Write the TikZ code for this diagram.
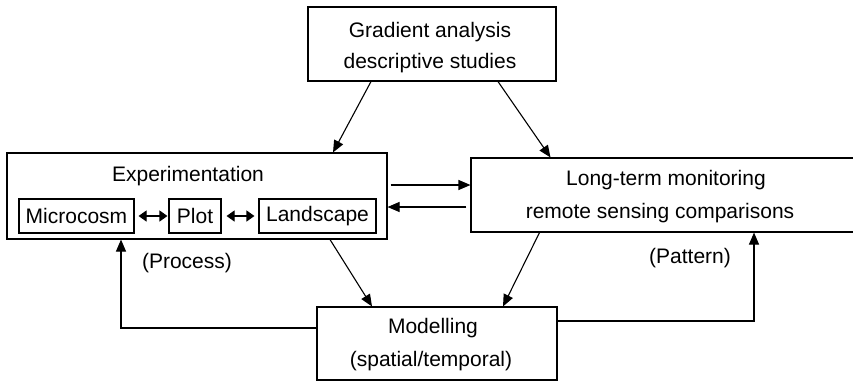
\documentclass[tikz,border=0pt]{standalone}
\usepackage{fontspec}
\setmainfont{Liberation Sans}
\usetikzlibrary{arrows.meta,calc}
\begin{document}
\begin{tikzpicture}[x=1pt,y=-1pt,
  font=\fontsize{21}{25}\selectfont,
  box/.style={draw,line width=1.1pt,inner sep=0pt},
  flow/.style={line width=1.1pt,-{Triangle[length=12pt,width=10pt]}},
  pair/.style={line width=1.1pt,{Triangle[length=8pt,width=11pt]}-{Triangle[length=8pt,width=11pt]}},
  lbl/.style={inner sep=0pt,anchor=center}]
\useasboundingbox (0,0) rectangle (853,381);
\fill[white] (0,0) rectangle (853,381);

% main boxes
\node[box,minimum width=248pt,minimum height=74pt] (top) at (432,44) {};
\node[box,minimum width=380pt,minimum height=86pt] (exp) at (197,196) {};
\node[box,minimum width=385pt,minimum height=74pt] (lt) at (663.5,195) {};
\node[box,minimum width=240pt,minimum height=73pt] (mod) at (437,343.5) {};

% inner boxes of the experimentation box
\node[box,minimum width=115pt,minimum height=34pt] (micro) at (76.5,216) {Microcosm};
\node[box,minimum width=52pt,minimum height=34pt] (plot) at (195,216) {Plot};
\node[box,minimum width=117pt,minimum height=34pt] (land) at (317.5,216) {Landscape};

% box texts
\node[lbl] (t1) at (430,32) {Gradient analysis};
\node[lbl] (t2) at (430,63) {descriptive studies};
\node[lbl] (t3) at (188,176) {Experimentation};
\node[lbl] (t4) at (666,180) {Long-term monitoring};
\node[lbl] (t5) at (660,213) {remote sensing comparisons};
\node[lbl] (t6) at (433,328) {Modelling};
\node[lbl] (t7) at (431,361) {(spatial/temporal)};
\node[lbl] (p1) at (187,263) {(Process)};
\node[lbl] (p2) at (690,258) {(Pattern)};

% connectors
\draw[pair,shorten <=4pt,shorten >=1pt] (micro.east) -- (plot.west);
\draw[pair,shorten <=5pt,shorten >=4pt] (plot.east) -- (land.west);
\draw[flow] ($(top.south)+(-61,0)$) -- ($(exp.north)+(136,0)$);
\draw[flow] ($(top.south)+(66,0)$) -- ($(lt.north)+(-113,0)$);
\draw[flow] ($(exp.east)+(3,-11)$) -- ($(lt.west)+(0,-10)$);
\draw[flow] ($(lt.west)+(-4,12)$) -- ($(exp.east)+(0,11)$);
\draw[flow] ($(exp.south)+(133,0)$) -- ($(mod.north)+(-65,0)$);
\draw[flow] ($(lt.south)+(-124,0)$) -- ($(mod.north)+(66,0)$);
\draw[flow] ($(mod.west)+(0,-15.5)$) -| ($(exp.south)+(-76,0)$);
\draw[flow] ($(mod.east)+(0,-22.5)$) -| ($(lt.south)+(90.5,0)$);
\end{tikzpicture}
\end{document}
